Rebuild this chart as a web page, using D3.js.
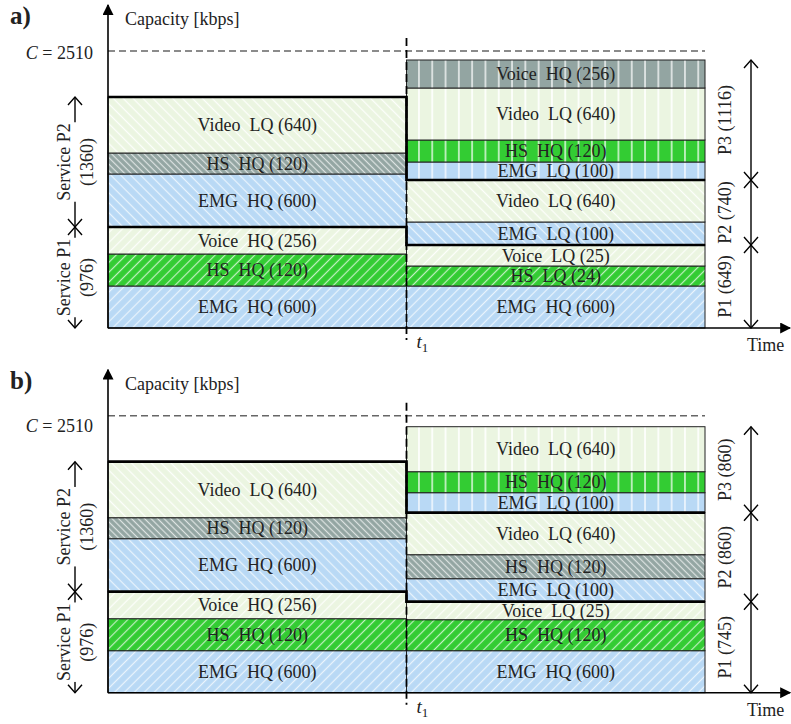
<!DOCTYPE html>
<html>
<head>
<meta charset="utf-8">
<script src="https://cdn.jsdelivr.net/npm/d3@7"></script>
<style>
body { margin: 0; background: #fff; }
text { font-family: "Liberation Serif", "Times New Roman", serif; fill: #222; }
</style>
</head>
<body>
<svg id="chart" width="791" height="724"></svg>
<script>
// Segments listed bottom -> top. Heights are the drawn (schematic) band sizes, not kbps.
var leftNames   = ["EMG  HQ (600)", "HS  HQ (120)", "Voice  HQ (256)", "EMG  HQ (600)", "HS  HQ (120)", "Video  LQ (640)"];
var leftColors  = ["blue", "green", "light", "blue", "gray", "light"];
var leftGroups  = [1, 1, 1, 2, 2, 2];
var leftHeights = [42, 32, 27, 53, 21, 56];

var aRightNames   = ["EMG  HQ (600)", "HS  LQ (24)", "Voice  LQ (25)", "EMG  LQ (100)", "Video  LQ (640)", "EMG  LQ (100)", "HS  HQ (120)", "Video  LQ (640)", "Voice  HQ (256)"];
var aRightColors  = ["blue", "green", "light", "blue", "light", "blue", "green", "light", "gray"];
var aRightGroups  = [1, 1, 1, 2, 2, 3, 3, 3, 3];
var aRightHeights = [42, 20, 21, 23, 42, 18, 22, 52, 28];

var bRightNames   = ["EMG  HQ (600)", "HS  HQ (120)", "Voice  LQ (25)", "EMG  LQ (100)", "HS  HQ (120)", "Video  LQ (640)", "EMG  LQ (100)", "HS  HQ (120)", "Video  LQ (640)"];
var bRightColors  = ["blue", "green", "light", "blue", "gray", "light", "blue", "green", "light"];
var bRightGroups  = [1, 1, 1, 2, 2, 2, 3, 3, 3];
var bRightHeights = [42, 31, 18, 23, 24, 42, 20, 21, 45];

var serviceLabels = [["Service P1", "(976)"], ["Service P2", "(1360)"]];
var aPrioLabels = ["P1 (649)", "P2 (740)", "P3 (1116)"];
var bPrioLabels = ["P1 (745)", "P2 (860)", "P3 (860)"];

var capacityLevel = 277;   // drawn level of the C = 2510 line
var axisTop = 323;

var fills = { blue: "#b9d9f5", green: "#33cc33", light: "#ebf5e1", gray: "#93a5a2" };

var panels = [
    { tag: "a)", base: 328,   names: aRightNames, colors: aRightColors, groups: aRightGroups, heights: aRightHeights, prio: aPrioLabels, cDy: 8 },
    { tag: "b)", base: 692.7, names: bRightNames, colors: bRightColors, groups: bRightGroups, heights: bRightHeights, prio: bPrioLabels, cDy: 16 }
];

var svg = d3.select("#chart");
var x = d3.scaleLinear().domain([0, 2]).range([108, 705]); // 0 = start, 1 = t1, 2 = end of bars
var xTip = 2.285;
var fs = "18px";

// hatch patterns: f = "/", b = "\", v = vertical
var defs = svg.append("defs");
Object.keys(fills).forEach(function(c) {
    [["f", 45], ["b", -45], ["v", 0]].forEach(function(d) {
        var s = d[0] == "v" ? 13.3 : (c == "gray" ? 4.6 : 7);
        var p = defs.append("pattern")
            .attr("id", c + "-" + d[0])
            .attr("patternUnits", "userSpaceOnUse")
            .attr("width", s).attr("height", s)
            .attr("patternTransform", "rotate(" + d[1] + ")");
        p.append("rect").attr("width", s).attr("height", s).attr("fill", fills[c]);
        p.append("line")
            .attr("x1", s / 2).attr("x2", s / 2).attr("y1", 0).attr("y2", s)
            .attr("stroke", "#fff")
            .attr("stroke-width", d[0] == "v" ? 1.8 : 1.2)
            .attr("stroke-opacity", c == "light" ? 0.9 : 0.7);
    });
});
var dirOf = { 1: "f", 2: "b", 3: "v" };

defs.append("marker").attr("id", "tri")
    .attr("viewBox", "0 0 10 10").attr("refX", 9).attr("refY", 5)
    .attr("markerWidth", 11).attr("markerHeight", 11).attr("markerUnits", "userSpaceOnUse")
    .attr("orient", "auto")
    .append("path").attr("d", "M0,0 L10,5 L0,10 z").attr("fill", "#000");

function stack(names, colors, groups, heights) {
    var tops = d3.cumsum(heights);
    return names.map(function(n, i) {
        return { name: n, color: colors[i], group: groups[i], y0: tops[i] - heights[i], y1: tops[i] };
    });
}

function groupTop(segs, g) {
    return d3.max(segs.filter(function(s) { return s.group <= g; }), function(s) { return s.y1; }) || 0;
}

function doubleArrow(g, xa, ya, yb) {
    g.append("line").attr("x1", xa).attr("x2", xa).attr("y1", ya).attr("y2", yb)
        .attr("stroke", "#000").attr("stroke-width", 1.4);
    [[ya, 1], [yb, -1]].forEach(function(e) {
        g.append("path")
            .attr("d", "M" + (xa - 7) + "," + (e[0] + 8 * e[1]) + " L" + xa + "," + e[0] + " L" + (xa + 7) + "," + (e[0] + 8 * e[1]))
            .attr("fill", "none").attr("stroke", "#000").attr("stroke-width", 1.4);
    });
}

panels.forEach(function(p) {
    var y = d3.scaleLinear().domain([0, axisTop]).range([p.base, p.base - axisTop]);
    var g = svg.append("g");
    var left = stack(leftNames, leftColors, leftGroups, leftHeights);
    var right = stack(p.names, p.colors, p.groups, p.heights);

    // capacity line
    g.append("line")
        .attr("x1", x(0)).attr("x2", x(2))
        .attr("y1", y(capacityLevel)).attr("y2", y(capacityLevel))
        .attr("stroke", "#666").attr("stroke-width", 1.5).attr("stroke-dasharray", "7,4");

    // bars
    [[left, 0, 1], [right, 1, 2]].forEach(function(side) {
        g.selectAll(null).data(side[0]).enter().append("rect")
            .attr("x", x(side[1]))
            .attr("width", x(side[2]) - x(side[1]))
            .attr("y", function(d) { return y(d.y1); })
            .attr("height", function(d) { return y(d.y0) - y(d.y1); })
            .attr("fill", function(d) { return "url(#" + d.color + "-" + dirOf[d.group] + ")"; })
            .attr("stroke", "#222").attr("stroke-width", 1);
    });

    // thick group boundaries, stepping at t1
    [1, 2].forEach(function(gr) {
        var lt = groupTop(left, gr), rt = groupTop(right, gr);
        g.append("path")
            .attr("d", "M" + x(0) + "," + y(lt) + " H" + x(1) + " V" + y(rt) + " H" + x(2))
            .attr("fill", "none").attr("stroke", "#000").attr("stroke-width", 2.7);
    });

    // t1 dashed line
    g.append("line")
        .attr("x1", x(1)).attr("x2", x(1))
        .attr("y1", y(290)).attr("y2", y(-12))
        .attr("stroke", "#000").attr("stroke-width", 1.8).attr("stroke-dasharray", "8,4");

    // bar labels
    [[left, 0, 1], [right, 1, 2]].forEach(function(side) {
        g.selectAll(null).data(side[0]).enter().append("text")
            .attr("x", (x(side[1]) + x(side[2])) / 2)
            .attr("y", function(d) { return (y(d.y0) + y(d.y1)) / 2; })
            .attr("text-anchor", "middle")
            .attr("dominant-baseline", "central")
            .style("white-space", "pre")
            .style("font-size", fs)
            .text(function(d) { return d.name; });
    });

    // axes
    g.append("line").attr("x1", x(0)).attr("x2", x(0)).attr("y1", y(0)).attr("y2", y(axisTop))
        .attr("stroke", "#000").attr("stroke-width", 1.6).attr("marker-end", "url(#tri)");
    g.append("line").attr("x1", x(0)).attr("x2", x(xTip)).attr("y1", y(0)).attr("y2", y(0))
        .attr("stroke", "#000").attr("stroke-width", 1.6).attr("marker-end", "url(#tri)");

    g.append("text").attr("x", 10).attr("y", p.base - 304)
        .style("font-size", "25px").style("font-weight", "bold").text(p.tag);
    g.append("text").attr("x", 125).attr("y", p.base - 303)
        .style("font-size", fs).text("Capacity [kbps]");
    var ct = g.append("text").attr("x", 93).attr("y", y(capacityLevel) + p.cDy)
        .attr("text-anchor", "end").style("font-size", fs);
    ct.append("tspan").style("font-style", "italic").text("C");
    ct.append("tspan").text(" = 2510");
    var tt = g.append("text").attr("x", x(1) + 10).attr("y", p.base + 20).style("font-size", "19px");
    tt.append("tspan").style("font-style", "italic").text("t");
    tt.append("tspan").attr("dy", 4).style("font-size", "13px").text("1");
    g.append("text").attr("x", 747).attr("y", p.base + 23).style("font-size", fs).text("Time");

    // priority brackets on the right
    [1, 2, 3].forEach(function(gr) {
        var lo = groupTop(right, gr - 1), hi = groupTop(right, gr);
        doubleArrow(g, 751, y(hi), y(lo));
        g.append("text")
            .attr("transform", "translate(725," + ((y(lo) + y(hi)) / 2) + ") rotate(-90)")
            .attr("text-anchor", "middle").attr("dominant-baseline", "central")
            .style("font-size", fs)
            .text(p.prio[gr - 1]);
    });

    // service brackets on the left
    [1, 2].forEach(function(gr) {
        var lo = groupTop(left, gr - 1), hi = groupTop(left, gr);
        doubleArrow(g, 75, y(hi), y(lo));
        var lg = g.append("g")
            .attr("transform", "translate(75," + ((y(lo) + y(hi)) / 2) + ") rotate(-90)");
        var lab = lg.append("text").attr("text-anchor", "middle").style("font-size", fs);
        lab.append("tspan").attr("x", 0).attr("y", -5).text(serviceLabels[gr - 1][0]);
        lab.append("tspan").attr("x", 0).attr("y", 18).text(serviceLabels[gr - 1][1]);
        var bb = lab.node().getBBox();
        lg.insert("rect", "text")
            .attr("x", bb.x - 1).attr("y", bb.y).attr("width", bb.width + 2).attr("height", bb.height)
            .attr("fill", "#fff");
    });
});
</script>
</body>
</html>
